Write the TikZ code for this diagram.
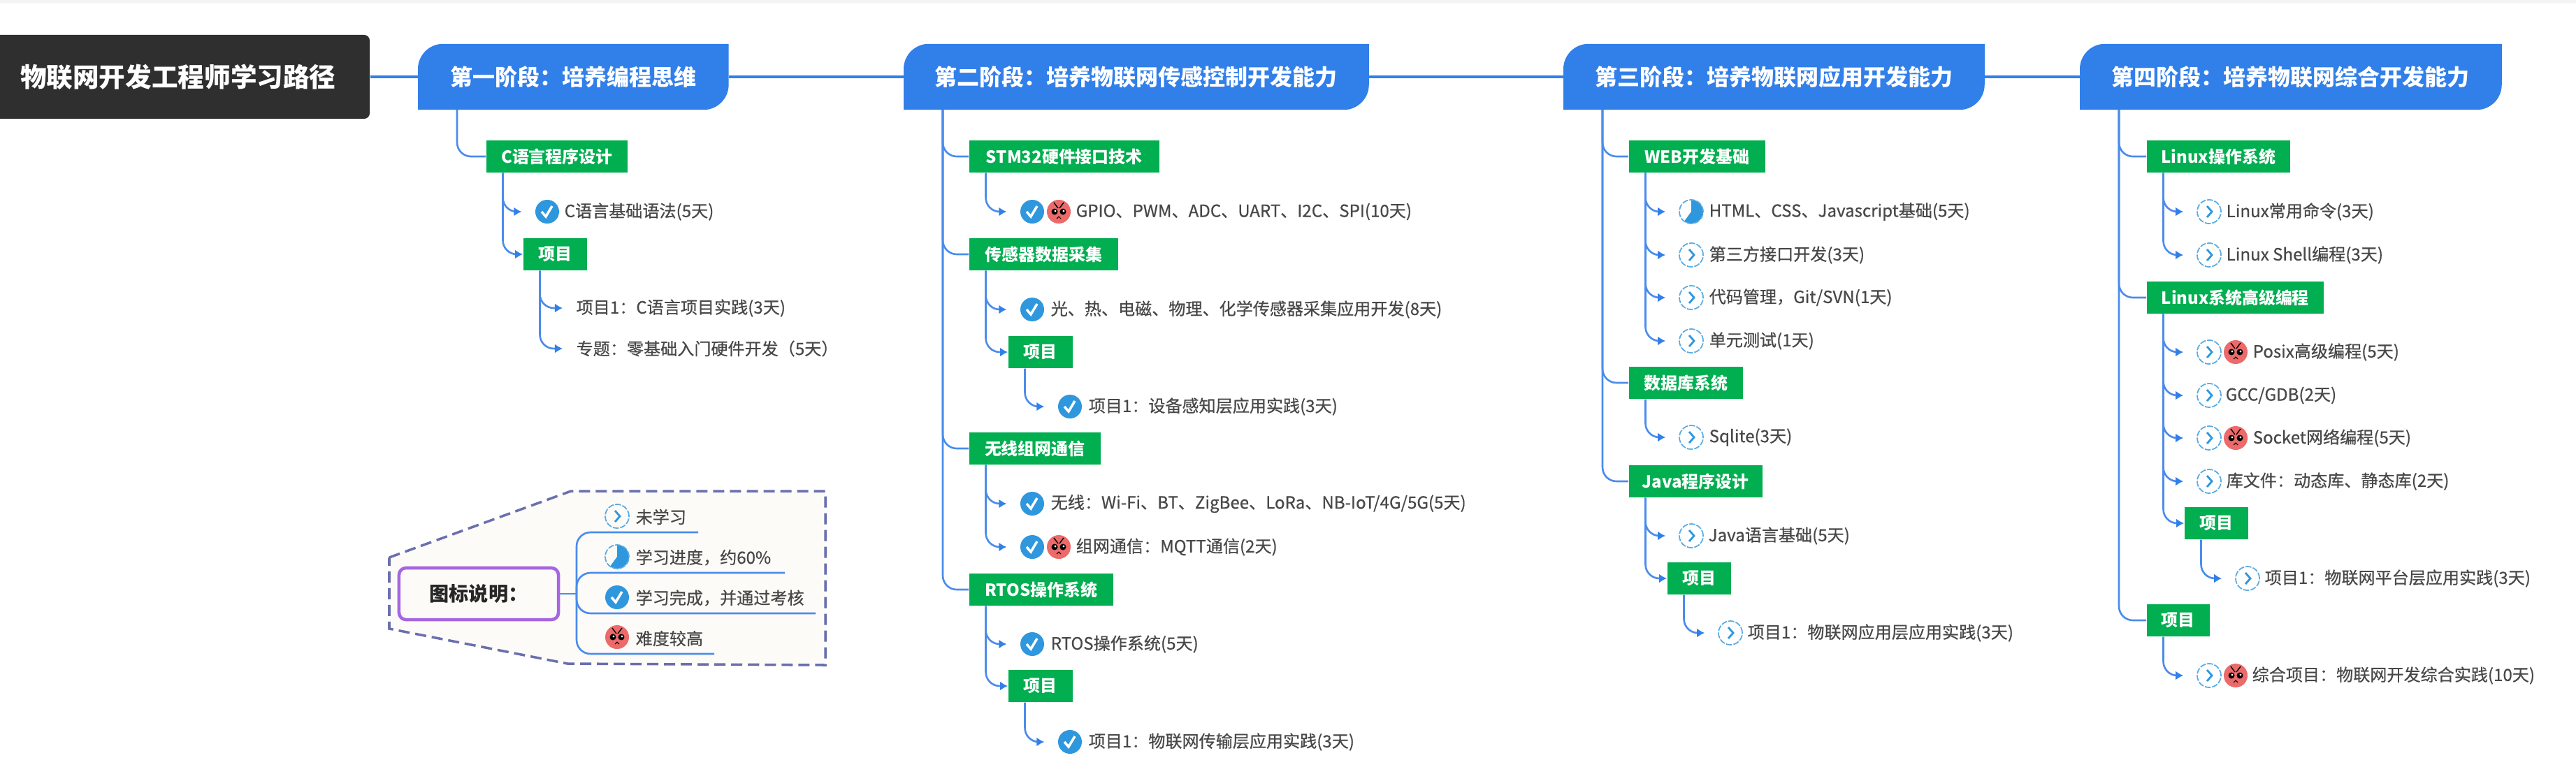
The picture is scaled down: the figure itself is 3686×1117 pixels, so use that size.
\documentclass[tikz,border=0pt]{standalone}
\usepackage{fontspec}
\setmainfont{Noto Sans CJK SC}
\newfontfamily\itemfont[FakeBold=0.6]{Noto Sans CJK SC}
\usetikzlibrary{arrows.meta,backgrounds}
\definecolor{stageblue}{HTML}{317FE9}
\definecolor{linkblue}{HTML}{4A8CEC}
\definecolor{topicgreen}{HTML}{01AE50}
\definecolor{rootgray}{HTML}{2F2F2F}
\definecolor{itemgray}{HTML}{484848}
\definecolor{iconblue}{HTML}{2F97DD}
\definecolor{facered}{HTML}{EC6A6A}
\definecolor{legendedge}{HTML}{6A6FAE}
\definecolor{legendfill}{HTML}{FDFBF8}
\definecolor{legendpurple}{HTML}{A566E0}
\definecolor{topbar}{HTML}{F3F4F6}
\tikzset{
  rootbox/.style={fill=rootgray,text=white,font=\bfseries\fontsize{10.7}{12}\selectfont,rounded corners=0.8mm,
    anchor=west,minimum height=12mm,inner xsep=0pt},
  stage/.style={text=white,font=\bfseries\fontsize{9.1}{10}\selectfont,anchor=west,minimum height=9.3mm,inner xsep=0pt},
  topic/.style={fill=topicgreen,text=white,font=\bfseries\fontsize{6.8}{8}\selectfont,anchor=west,minimum height=4.6mm,inner xsep=0pt,inner ysep=0pt},
  itemtext/.style={text=itemgray,font=\itemfont\fontsize{6.85}{8}\selectfont,anchor=west,inner sep=0pt},
  trunk/.style={stageblue,line width=1.3pt},
  spine/.style={linkblue,line width=0.75pt,rounded corners=2mm},
  branch/.style={spine,-{Latex[length=1.1mm,width=1.3mm,color=stageblue]}},
  leaf/.style={branch,shorten >=1.9mm},
  icon/.style={circle,inner sep=0pt,minimum size=3.4mm},
  todoicon/.style={icon,draw=iconblue!80,dash pattern=on 2.4pt off 0.6pt,line width=0.5pt,
    path picture={\begin{scope}[shift={(path picture bounding box.center)}]
      \draw[iconblue,solid,line width=0.8pt] (-3,-8) -- (4,0) -- (-3,8);
    \end{scope}}},
  progicon/.style={icon,draw=iconblue!80,dash pattern=on 2.4pt off 0.6pt,line width=0.5pt,
    path picture={\begin{scope}[shift={(path picture bounding box.center)}]
      \fill[iconblue] (0,0) -- (-90:18) arc[start angle=-90,end angle=126,radius=18] -- cycle;
    \end{scope}}},
  checkicon/.style={icon,fill=iconblue,
    path picture={\begin{scope}[shift={(path picture bounding box.center)}]
      \draw[white,line width=1pt] (-8,0) -- (-2,7) -- (7,-8);
    \end{scope}}},
  hardicon/.style={icon,fill=facered,
    path picture={\begin{scope}[shift={(path picture bounding box.center)}]
      \fill[black] (-6,0) circle (4.5) (6,0) circle (4.5);
      \fill[white] (-5,-1) circle (1.6) (7,-1) circle (1.6);
      \draw[black,line width=0.4pt] (-7,-13) -- (-1,-5) (7,-13) -- (1,-5);
      \draw[black,line width=0.3pt] (-3,10) -- (0,7) -- (3,10);
    \end{scope}}},
}
\begin{document}
\begin{tikzpicture}[x=0.01cm,y=-0.01cm]
  \useasboundingbox (0,0) rectangle (3686,1117);
  \fill[topbar] (0,0) rectangle (3686,5);

  % stages
  \node[rootbox,minimum width=54.8mm] (root) at (-20,110) {物联网开发工程师学习路径};
  \node[stage,minimum width=44.3mm] (s1) at (598,110) {第一阶段：培养编程思维};
  \node[stage,minimum width=66.4mm] (s2) at (1293,110) {第二阶段：培养物联网传感控制开发能力};
  \node[stage,minimum width=60.1mm] (s3) at (2237,110) {第三阶段：培养物联网应用开发能力};
  \node[stage,minimum width=60.2mm] (s4) at (2976,110) {第四阶段：培养物联网综合开发能力};
  \begin{scope}[on background layer]
    \foreach \n in {s1,s2,s3,s4}
      \fill[stageblue] (\n.south west) [rounded corners=3.6mm] -- (\n.north west) [sharp corners] -- (\n.north east)
        [rounded corners=3.6mm] -- (\n.south east) [sharp corners] -- cycle;
  \end{scope}
  \draw[trunk] (root) -- (s1);
  \draw[trunk] (s1) -- (s2);
  \draw[trunk] (s2) -- (s3);
  \draw[trunk] (s3) -- (s4);

  % first stage
  \node[topic,minimum width=20.2mm] (t1) at (695,224) {C语言程序设计};
  \node[checkicon] (i1a) at (783,303) {};
  \node[itemtext] (n1a) at (807,303) {C语言基础语法(5天)};
  \node[topic,minimum width=9.1mm] (p1) at (748,364) {项目};
  \node[itemtext] (n1b) at (824,441) {项目1：C语言项目实践(3天)};
  \node[itemtext] (n1c) at (824,499) {专题：零基础入门硬件开发（5天）};
  \draw[spine] ([xshift=5.6mm]s1.south west) |- (t1.west);
  \draw[leaf] ([xshift=2.45mm]t1.south west) |- (i1a.west);
  \draw[branch] ([xshift=2.45mm]t1.south west) |- (p1.west);
  \draw[leaf] ([xshift=2.45mm]p1.south west) |- (n1b.west);
  \draw[leaf] ([xshift=2.45mm]p1.south west) |- (n1c.west);

  % second stage
  \node[topic,minimum width=27.2mm] (t2) at (1386,224) {STM32硬件接口技术};
  \node[checkicon] (i2a) at (1477,303) {};
  \node[hardicon] (h2a) at (1515,303) {};
  \node[itemtext] (n2a) at (1539,303) {GPIO、PWM、ADC、UART、I2C、SPI(10天)};
  \node[topic,minimum width=21.3mm] (t3) at (1386,364) {传感器数据采集};
  \node[checkicon] (i3a) at (1477,443) {};
  \node[itemtext] (n3a) at (1503,443) {光、热、电磁、物理、化学传感器采集应用开发(8天)};
  \node[topic,minimum width=9.2mm] (p3) at (1442,504) {项目};
  \node[checkicon] (i3b) at (1531,582) {};
  \node[itemtext] (n3b) at (1557,582) {项目1：设备感知层应用实践(3天)};
  \node[topic,minimum width=18.8mm] (t4) at (1386,642) {无线组网通信};
  \node[checkicon] (i4a) at (1477,721) {};
  \node[itemtext] (n4a) at (1503,721) {无线：Wi-Fi、BT、ZigBee、LoRa、NB-IoT/4G/5G(5天)};
  \node[checkicon] (i4b) at (1477,783) {};
  \node[hardicon] (h4b) at (1515,783) {};
  \node[itemtext] (n4b) at (1539,783) {组网通信：MQTT通信(2天)};
  \node[topic,minimum width=20.6mm] (t5) at (1386,844) {RTOS操作系统};
  \node[checkicon] (i5a) at (1477,922) {};
  \node[itemtext] (n5a) at (1503,922) {RTOS操作系统(5天)};
  \node[topic,minimum width=9.2mm] (p5) at (1442,982) {项目};
  \node[checkicon] (i5b) at (1531,1062) {};
  \node[itemtext] (n5b) at (1557,1062) {项目1：物联网传输层应用实践(3天)};
  \draw[spine] ([xshift=5.6mm]s2.south west) |- (t2.west);
  \draw[spine] ([xshift=5.6mm]s2.south west) |- (t3.west);
  \draw[spine] ([xshift=5.6mm]s2.south west) |- (t4.west);
  \draw[spine] ([xshift=5.6mm]s2.south west) |- (t5.west);
  \draw[leaf] ([xshift=2.45mm]t2.south west) |- (i2a.west);
  \draw[leaf] ([xshift=2.45mm]t3.south west) |- (i3a.west);
  \draw[branch] ([xshift=2.45mm]t3.south west) |- (p3.west);
  \draw[leaf] ([xshift=2.45mm]p3.south west) |- (i3b.west);
  \draw[leaf] ([xshift=2.45mm]t4.south west) |- (i4a.west);
  \draw[leaf] ([xshift=2.45mm]t4.south west) |- (i4b.west);
  \draw[leaf] ([xshift=2.45mm]t5.south west) |- (i5a.west);
  \draw[branch] ([xshift=2.45mm]t5.south west) |- (p5.west);
  \draw[leaf] ([xshift=2.45mm]p5.south west) |- (i5b.west);

  % third stage
  \node[topic,minimum width=19.5mm] (t6) at (2330,224) {WEB开发基础};
  \node[progicon] (i6a) at (2420,303) {};
  \node[itemtext] (n6a) at (2445,303) {HTML、CSS、Javascript基础(5天)};
  \node[todoicon] (i6b) at (2420,365) {};
  \node[itemtext] (n6b) at (2445,365) {第三方接口开发(3天)};
  \node[todoicon] (i6c) at (2420,426) {};
  \node[itemtext] (n6c) at (2445,426) {代码管理，Git/SVN(1天)};
  \node[todoicon] (i6d) at (2420,488) {};
  \node[itemtext] (n6d) at (2445,488) {单元测试(1天)};
  \node[topic,minimum width=16.3mm] (t7) at (2330,548) {数据库系统};
  \node[todoicon] (i7a) at (2420,626) {};
  \node[itemtext] (n7a) at (2445,626) {Sqlite(3天)};
  \node[topic,minimum width=19.1mm] (t8) at (2330,689) {Java程序设计};
  \node[todoicon] (i8a) at (2420,767) {};
  \node[itemtext] (n8a) at (2444,767) {Java语言基础(5天)};
  \node[topic,minimum width=9.1mm] (p8) at (2385,828) {项目};
  \node[todoicon] (i8b) at (2476,906) {};
  \node[itemtext] (n8b) at (2500,906) {项目1：物联网应用层应用实践(3天)};
  \draw[spine] ([xshift=5.6mm]s3.south west) |- (t6.west);
  \draw[spine] ([xshift=5.6mm]s3.south west) |- (t7.west);
  \draw[spine] ([xshift=5.6mm]s3.south west) |- (t8.west);
  \draw[leaf] ([xshift=2.45mm]t6.south west) |- (i6a.west);
  \draw[leaf] ([xshift=2.45mm]t6.south west) |- (i6b.west);
  \draw[leaf] ([xshift=2.45mm]t6.south west) |- (i6c.west);
  \draw[leaf] ([xshift=2.45mm]t6.south west) |- (i6d.west);
  \draw[leaf] ([xshift=2.45mm]t7.south west) |- (i7a.west);
  \draw[leaf] ([xshift=2.45mm]t8.south west) |- (i8a.west);
  \draw[branch] ([xshift=2.45mm]t8.south west) |- (p8.west);
  \draw[leaf] ([xshift=2.45mm]p8.south west) |- (i8b.west);

  % fourth stage
  \node[topic,minimum width=20.5mm] (t9) at (3071,224) {Linux操作系统};
  \node[todoicon] (i9a) at (3161,303) {};
  \node[itemtext] (n9a) at (3185,303) {Linux常用命令(3天)};
  \node[todoicon] (i9b) at (3161,365) {};
  \node[itemtext] (n9b) at (3185,365) {Linux Shell编程(3天)};
  \node[topic,minimum width=25.3mm] (t10) at (3071,426) {Linux系统高级编程};
  \node[todoicon] (i10a) at (3161,504) {};
  \node[hardicon] (h10a) at (3199,504) {};
  \node[itemtext] (n10a) at (3223,504) {Posix高级编程(5天)};
  \node[todoicon] (i10b) at (3161,566) {};
  \node[itemtext] (n10b) at (3184,566) {GCC/GDB(2天)};
  \node[todoicon] (i10c) at (3161,627) {};
  \node[hardicon] (h10c) at (3199,627) {};
  \node[itemtext] (n10c) at (3223,627) {Socket网络编程(5天)};
  \node[todoicon] (i10d) at (3161,689) {};
  \node[itemtext] (n10d) at (3185,689) {库文件：动态库、静态库(2天)};
  \node[topic,minimum width=9.1mm] (p10) at (3125,749) {项目};
  \node[todoicon] (i10e) at (3216,828) {};
  \node[itemtext] (n10e) at (3240,828) {项目1：物联网平台层应用实践(3天)};
  \node[topic,minimum width=9mm] (t11) at (3071,888) {项目};
  \node[todoicon] (i11a) at (3161,967) {};
  \node[hardicon] (h11a) at (3199,967) {};
  \node[itemtext] (n11a) at (3222,967) {综合项目：物联网开发综合实践(10天)};
  \draw[spine] ([xshift=5.6mm]s4.south west) |- (t9.west);
  \draw[spine] ([xshift=5.6mm]s4.south west) |- (t10.west);
  \draw[spine] ([xshift=5.6mm]s4.south west) |- (t11.west);
  \draw[leaf] ([xshift=2.45mm]t9.south west) |- (i9a.west);
  \draw[leaf] ([xshift=2.45mm]t9.south west) |- (i9b.west);
  \draw[leaf] ([xshift=2.45mm]t10.south west) |- (i10a.west);
  \draw[leaf] ([xshift=2.45mm]t10.south west) |- (i10b.west);
  \draw[leaf] ([xshift=2.45mm]t10.south west) |- (i10c.west);
  \draw[leaf] ([xshift=2.45mm]t10.south west) |- (i10d.west);
  \draw[branch] ([xshift=2.45mm]t10.south west) |- (p10.west);
  \draw[leaf] ([xshift=2.45mm]p10.south west) |- (i10e.west);
  \draw[leaf] ([xshift=2.45mm]t11.south west) |- (i11a.west);

  % legend
  \draw[legendedge,fill=legendfill,line width=1pt,dash pattern=on 1.6mm off 0.8mm]
    (557,798) -- (817,703) -- (1181,703) -- (1181,952) -- (812,950) -- (557,900) -- cycle;
  \node[draw=legendpurple,fill=legendfill,line width=1.3pt,rounded corners=1mm,text=black!85,
    font=\bfseries\fontsize{8}{9}\selectfont,minimum width=22.8mm,minimum height=7.4mm,inner sep=0pt] (legendbox) at (685,850) {图标说明：};
  \node[todoicon] (lg1) at (883,739) {};
  \node[itemtext] (ln1) at (909,740) {未学习};
  \node[progicon] (lg2) at (883,797) {};
  \node[itemtext] (ln2) at (909,798) {学习进度，约60\%};
  \node[checkicon] (lg3) at (883,855) {};
  \node[itemtext] (ln3) at (909,856) {学习完成，并通过考核};
  \node[hardicon] (lg4) at (883,912) {};
  \node[itemtext] (ln4) at (909,914) {难度较高};
  \coordinate (lgfork) at (825,850);
  \coordinate (lgend1) at (999,762);
  \coordinate (lgend2) at (1123,820);
  \coordinate (lgend3) at (1167,878);
  \coordinate (lgend4) at (1022,936);
  \draw[spine] (legendbox.east) -- (lgfork);
  \draw[spine] (lgfork) |- (lgend1);
  \draw[spine] (lgfork) |- (lgend2);
  \draw[spine] (lgfork) |- (lgend3);
  \draw[spine] (lgfork) |- (lgend4);
\end{tikzpicture}
\end{document}
